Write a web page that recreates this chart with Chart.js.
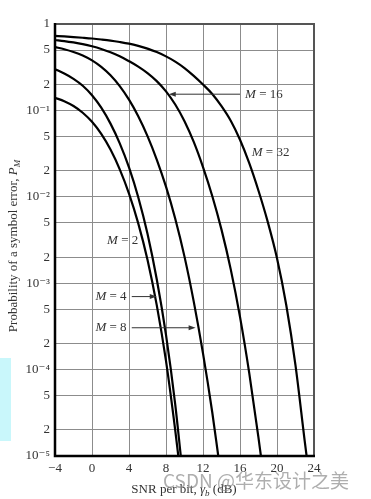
<!DOCTYPE html>
<html>
<head>
<meta charset="utf-8">
<script src="https://cdn.jsdelivr.net/npm/chart.js@4.4.0/dist/chart.umd.min.js"></script>
<style>
  html, body { margin: 0; padding: 0; background: #fff; }
  #wrap { position: relative; width: 371px; height: 499px; }
</style>
</head>
<body>
<div id="wrap"><canvas id="myChart" width="371" height="499"></canvas></div>
<script>
// curve data (SNR per bit in dB, symbol error prob.)
var snrM2 = [-4, -3, -2, -1, 0, 1, 2, 3, 4, 5, 6, 7, 8, 9, 9.33];
var peM2 = [0.14, 0.128, 0.1125, 0.094, 0.0738, 0.0535, 0.0352, 0.0208, 0.0109, 0.00493, 0.00187, 5.57e-4, 1.26e-4, 1.98e-5, 1e-5];

var snrM4 = [-4, -3, -2, -1, 0, 1, 2, 3, 4, 5, 6, 7, 8, 9, 9.6];
var peM4 = [0.30, 0.267, 0.232, 0.193, 0.150, 0.1076, 0.0703, 0.0416, 0.0219, 0.0099, 0.00373, 1.11e-3, 2.52e-4, 3.94e-5, 1e-5];

var snrM8 = [-4, -3, -2, -1, 0, 1, 2, 3, 4, 5, 6, 7, 8, 9, 10, 11, 12, 13, 13.65];
var peM8 = [0.54, 0.511, 0.475, 0.4315, 0.379, 0.319, 0.255, 0.191, 0.133, 0.0855, 0.0504, 0.027, 0.0131, 0.00558, 0.00203, 6.12e-4, 1.54e-4, 3.21e-5, 1e-5];

var snrM16 = [-4, -3, -2, -1, 0, 1, 2, 3, 4, 5, 6, 7, 8, 9, 10, 11, 12, 13, 14, 15, 16, 17, 18, 18.26];
var peM16 = [0.653, 0.635, 0.612, 0.585, 0.552, 0.514, 0.471, 0.423, 0.371, 0.321, 0.27, 0.218, 0.166, 0.117, 0.075, 0.0432, 0.0221, 0.01023, 0.00417, 0.001445, 4.07e-4, 9.1e-5, 1.62e-5, 1e-5];

var snrM32 = [-4, -3, -2, -1, 0, 1, 2, 3, 4, 5, 6, 7, 8, 9, 10, 11, 12, 13, 14, 15, 16, 17, 18, 19, 20, 21, 22, 23, 23.2];
var peM32 = [0.728, 0.718, 0.706, 0.693, 0.679, 0.662, 0.643, 0.619, 0.592, 0.558, 0.519, 0.473, 0.422, 0.367, 0.309, 0.251, 0.1995, 0.155, 0.112, 0.0759, 0.0457, 0.0245, 0.01175, 0.00513, 0.00195, 5.6e-4, 1.12e-4, 1.48e-5, 1e-5];

// y ticks (1, 2, 5 per decade)
var yTickValues = [1e-5, 2e-5, 5e-5, 1e-4, 2e-4, 5e-4, 1e-3, 2e-3, 5e-3, 1e-2, 2e-2, 5e-2, 1e-1, 2e-1, 5e-1, 1];
var yTickLabels = ['10\u207B\u2075', '2', '5', '10\u207B\u2074', '2', '5', '10\u207B\u00B3', '2', '5', '10\u207B\u00B2', '2', '5', '10\u207B\u00B9', '2', '5', '1'];

// curve labels "M = ..", placed in data units, with optional arrows
var mLabels = ['2', '4', '8', '16', '32'];
var labelSnr = [1.63, 0.37, 0.37, 16.55, 17.27];
var labelPe = [3.1e-3, 7e-4, 3.05e-4, 0.154, 0.0327];
var arrowFrom = [null, 4.3, 4.3, 16.0, null];
var arrowTo = [null, 7.0, 11.2, 8.3, null];

var serif = '"Liberation Serif", "DejaVu Serif", serif';

function pts(xs, ys) {
  return xs.map(function(x, i) { return { x: x, y: ys[i] }; });
}

function curve(xs, ys) {
  return {
    data: pts(xs, ys),
    borderColor: '#000',
    borderWidth: 2.2,
    pointRadius: 0,
    fill: false,
    cubicInterpolationMode: 'monotone'
  };
}

// draws labels, arrows, frame, titles
var extras = {
  id: 'extras',
  beforeDraw: function(chart) {
    var ctx = chart.ctx;
    ctx.save();
    ctx.fillStyle = '#fff';
    ctx.fillRect(0, 0, chart.width, chart.height);
    ctx.fillStyle = '#c9f7fb';
    ctx.fillRect(0, 358, 11, 83);
    ctx.restore();
  },
  afterDatasetsDraw: function(chart) {
    var ctx = chart.ctx;
    var xs = chart.scales.x, ys = chart.scales.y;
    var a = chart.chartArea;

    // frame
    ctx.save();
    ctx.strokeStyle = '#555';
    ctx.lineWidth = 2;
    ctx.strokeRect(a.left, a.top, a.right - a.left, a.bottom - a.top);
    ctx.strokeStyle = '#000';
    ctx.lineWidth = 2.5;
    ctx.beginPath();
    ctx.moveTo(a.left, a.top - 1);
    ctx.lineTo(a.left, a.bottom);
    ctx.lineTo(a.right + 1, a.bottom);
    ctx.stroke();
    ctx.restore();

    // M = .. labels
    ctx.save();
    ctx.fillStyle = '#333';
    ctx.strokeStyle = '#333';
    ctx.textBaseline = 'middle';
    for (var i in mLabels) {
      var px = xs.getPixelForValue(labelSnr[i]);
      var py = ys.getPixelForValue(labelPe[i]);
      ctx.font = 'italic 13px ' + serif;
      ctx.fillText('M', px, py);
      var w = ctx.measureText('M').width;
      ctx.font = '13px ' + serif;
      ctx.fillText(' = ' + mLabels[i], px + w, py);

      if (arrowFrom[i] !== null) {
        var x1 = xs.getPixelForValue(arrowFrom[i]);
        var x2 = xs.getPixelForValue(arrowTo[i]);
        var dir = x2 > x1 ? 1 : -1;
        ctx.lineWidth = 1;
        ctx.beginPath();
        ctx.moveTo(x1, py);
        ctx.lineTo(x2 - dir * 5, py);
        ctx.stroke();
        ctx.beginPath();
        ctx.moveTo(x2, py);
        ctx.lineTo(x2 - dir * 7, py - 2.5);
        ctx.lineTo(x2 - dir * 7, py + 2.5);
        ctx.closePath();
        ctx.fill();
      }
    }
    ctx.restore();
  },
  afterDraw: function(chart) {
    var ctx = chart.ctx;
    ctx.save();
    ctx.fillStyle = '#333';
    ctx.textBaseline = 'middle';

    // y title, rotated
    ctx.translate(14, 246);
    ctx.rotate(-Math.PI / 2);
    var p1 = 'Probability of a symbol error, ';
    ctx.font = '13px ' + serif;
    var w1 = ctx.measureText(p1).width;
    ctx.font = 'italic 13px ' + serif;
    var w2 = ctx.measureText('P').width;
    ctx.font = 'italic 9px ' + serif;
    var w3 = ctx.measureText('M').width;
    var x0 = -(w1 + w2 + w3) / 2;
    ctx.font = '13px ' + serif;
    ctx.fillText(p1, x0, 0);
    ctx.font = 'italic 13px ' + serif;
    ctx.fillText('P', x0 + w1, 0);
    ctx.font = 'italic 9px ' + serif;
    ctx.fillText('M', x0 + w1 + w2, 4);
    ctx.setTransform(1, 0, 0, 1, 0, 0);

    // x title
    var t1 = 'SNR per bit, ', t4 = ' (dB)';
    ctx.font = '13px ' + serif;
    var a1 = ctx.measureText(t1).width, a4 = ctx.measureText(t4).width;
    ctx.font = 'italic 13px ' + serif;
    var a2 = ctx.measureText('\u03B3').width;
    ctx.font = 'italic 9px ' + serif;
    var a3 = ctx.measureText('b').width;
    var sx = 184 - (a1 + a2 + a3 + a4) / 2, sy = 490;
    ctx.font = '13px ' + serif;
    ctx.fillText(t1, sx, sy);
    ctx.font = 'italic 13px ' + serif;
    ctx.fillText('\u03B3', sx + a1, sy);
    ctx.font = 'italic 9px ' + serif;
    ctx.fillText('b', sx + a1 + a2, sy + 4);
    ctx.font = '13px ' + serif;
    ctx.fillText(t4, sx + a1 + a2 + a3, sy);

    // watermark
    ctx.font = '19px "Noto Sans CJK SC", sans-serif';
    ctx.fillStyle = 'rgba(140,140,140,0.7)';
    ctx.fillText('CSDN @\u534E\u4E1C\u8BBE\u8BA1\u4E4B\u7F8E', 163, 481);
    ctx.restore();
  }
};

var ctx = document.getElementById('myChart').getContext('2d');
var myChart = new Chart(ctx, {
  type: 'line',
  data: {
    datasets: [
      curve(snrM2, peM2),
      curve(snrM4, peM4),
      curve(snrM8, peM8),
      curve(snrM16, peM16),
      curve(snrM32, peM32)
    ]
  },
  options: {
    responsive: false,
    animation: false,
    layout: { padding: { top: 24, right: 57, left: 0, bottom: 0 } },
    plugins: {
      legend: { display: false },
      tooltip: { enabled: false }
    },
    scales: {
      x: {
        type: 'linear',
        min: -4,
        max: 24,
        grid: { color: '#8c8c8c', lineWidth: 1, drawTicks: false },
        border: { color: '#000', width: 2 },
        ticks: {
          stepSize: 4,
          padding: 5,
          color: '#333',
          font: { family: serif, size: 13 },
          callback: function(v) { return v < 0 ? '\u2212' + (-v) : '' + v; }
        },
        afterFit: function(s) { s.height = 43; }
      },
      y: {
        type: 'logarithmic',
        min: 1e-5,
        max: 1,
        grid: { color: '#8c8c8c', lineWidth: 1, drawTicks: false },
        border: { color: '#000', width: 2 },
        afterBuildTicks: function(s) {
          s.ticks = yTickValues.map(function(v) { return { value: v }; });
        },
        ticks: {
          autoSkip: false,
          padding: 5,
          color: '#333',
          font: { family: serif, size: 13 },
          callback: function(v, i) { return yTickLabels[i]; }
        },
        afterFit: function(s) { s.width = 55; }
      }
    }
  },
  plugins: [extras]
});
</script>
</body>
</html>
